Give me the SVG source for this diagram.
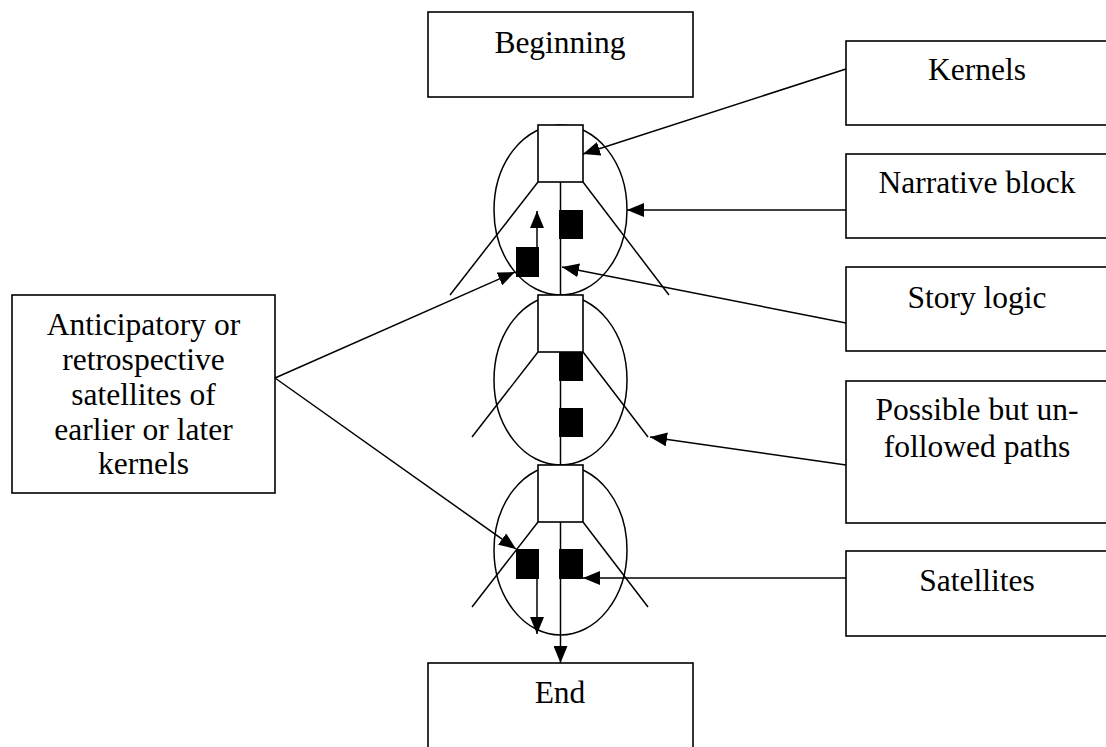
<svg xmlns="http://www.w3.org/2000/svg" width="1106" height="747" viewBox="0 0 1106 747">
<defs>
<style>
.box{fill:#fff;stroke:#000;stroke-width:1.6}
.ell{fill:none;stroke:#000;stroke-width:1.5}
.ln{fill:none;stroke:#000;stroke-width:1.5}
.sq{fill:#000;stroke:none}
.t{font-family:"Liberation Serif","Times New Roman",serif;font-size:31.5px;fill:#000;text-anchor:middle}
.arr{marker-end:url(#ah)}
</style>
<marker id="ah" viewBox="0 0 17 14" refX="17" refY="7" markerWidth="17" markerHeight="14" markerUnits="userSpaceOnUse" orient="auto">
<path d="M0,0 L17,7 L0,14 z" fill="#000"/>
</marker>
</defs>
<rect width="1106" height="747" fill="#fff"/>

<g id="beginning"><rect class="box" x="428" y="12" width="265" height="85"/><text class="t" x="560" y="53">Beginning</text></g>
<g id="end"><rect class="box" x="428" y="663" width="265" height="100"/><text class="t" x="560" y="703">End</text></g>

<g id="block1">
<ellipse class="ell" cx="560.5" cy="210" rx="66.5" ry="85"/>
<line class="ln" x1="538" y1="182" x2="450" y2="295"/>
<line class="ln" x1="583" y1="182" x2="669" y2="295"/>
<rect class="box" x="538" y="125" width="45" height="57"/>
<rect class="sq" x="559" y="210" width="24" height="29"/>
<rect class="sq" x="516" y="247" width="23" height="30"/>
</g>
<g id="block2">
<ellipse class="ell" cx="560.5" cy="380" rx="66.5" ry="85"/>
<line class="ln" x1="538" y1="352" x2="472" y2="437"/>
<line class="ln" x1="583" y1="352" x2="648" y2="437"/>
<rect class="box" x="538" y="295" width="45" height="57"/>
<rect class="sq" x="559" y="352" width="24" height="29"/>
<rect class="sq" x="559" y="408" width="24" height="29"/>
</g>
<g id="block3">
<ellipse class="ell" cx="560.5" cy="550" rx="66.5" ry="85"/>
<line class="ln" x1="538" y1="522" x2="472" y2="607"/>
<line class="ln" x1="583" y1="522" x2="648" y2="607"/>
<rect class="box" x="538" y="465" width="45" height="57"/>
<rect class="sq" x="516" y="549" width="23" height="30"/>
<rect class="sq" x="559" y="549" width="24" height="30"/>
</g>

<g id="kernels"><rect class="box" x="846" y="41" width="270" height="84"/><text class="t" x="977" y="80">Kernels</text></g>
<g id="narrative"><rect class="box" x="846" y="154" width="270" height="84"/><text class="t" x="977" y="193">Narrative block</text></g>
<g id="storylogic"><rect class="box" x="846" y="267" width="270" height="84"/><text class="t" x="977" y="308">Story logic</text></g>
<g id="paths"><rect class="box" x="846" y="381" width="270" height="142"/><text class="t" x="977" y="420">Possible but un-</text><text class="t" x="977" y="457">followed paths</text></g>
<g id="satellites"><rect class="box" x="846" y="551" width="270" height="85"/><text class="t" x="977" y="591">Satellites</text></g>
<g id="anticipatory"><rect class="box" x="12" y="295" width="263" height="198"/>
<text class="t" x="143.5" y="335">Anticipatory or</text>
<text class="t" x="143.5" y="370">retrospective</text>
<text class="t" x="143.5" y="405">satellites of</text>
<text class="t" x="143.5" y="440">earlier or later</text>
<text class="t" x="143.5" y="474">kernels</text>
</g>

<g id="connectors">
<line class="ln" x1="560.5" y1="182" x2="560.5" y2="295"/>
<line class="ln" x1="560.5" y1="352" x2="560.5" y2="465"/>
<line class="ln arr" x1="560.5" y1="522" x2="560.5" y2="663"/>
<line class="ln arr" x1="537" y1="247" x2="537" y2="211"/>
<line class="ln arr" x1="537" y1="579" x2="537" y2="634"/>
<line class="ln arr" x1="846" y1="69" x2="583" y2="154"/>
<line class="ln arr" x1="846" y1="210" x2="627" y2="210"/>
<line class="ln arr" x1="846" y1="323" x2="562" y2="267"/>
<line class="ln arr" x1="846" y1="465" x2="650" y2="437"/>
<line class="ln arr" x1="846" y1="578" x2="583" y2="578"/>
<line class="ln arr" x1="275" y1="378" x2="515" y2="272"/>
<line class="ln arr" x1="275" y1="378" x2="516" y2="549"/>
</g>
</svg>
